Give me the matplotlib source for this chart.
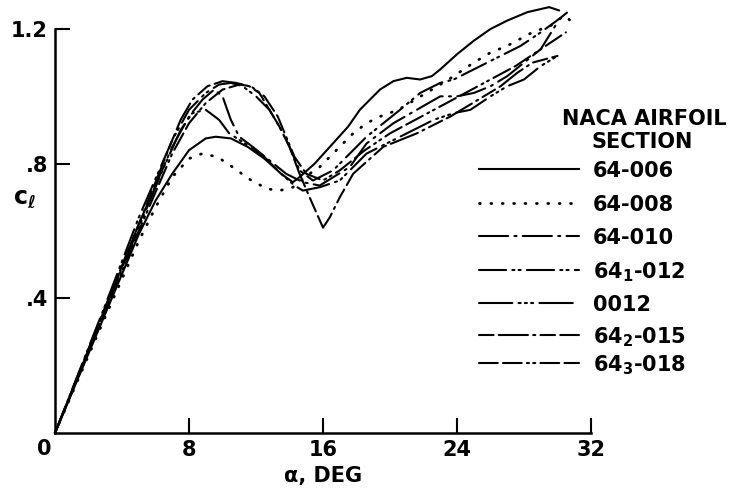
import matplotlib
matplotlib.use("Agg")
import matplotlib.pyplot as plt
from matplotlib.lines import Line2D

# lift curves (alpha in deg, c_l)
a_64006 = [0, 3, 5, 6, 7, 8, 9, 9.6, 10.5, 11.5, 12.5, 13.5, 14.2, 14.6, 15.5, 16.5,
           17.5, 18.2, 18.8, 19.4, 20.2, 21.0, 21.8, 22.5, 23.0, 24.0, 25.0, 26.0,
           27.0, 28.2, 29.5, 30.1]
cl_64006 = [0, .354, .59, .69, .77, .84, .875, .88, .875, .85, .815, .77, .745, .76,
            .80, .855, .91, .96, .99, 1.02, 1.045, 1.055, 1.05, 1.06, 1.08, 1.125,
            1.165, 1.20, 1.225, 1.25, 1.265, 1.255]

a_64008 = [0, 3, 5, 6, 7, 8, 8.8, 9.7, 10.3, 10.9, 11.4, 12.1, 12.7, 13.4, 14.2, 15.2,
           15.8, 16.6, 17.8, 18.6, 19.4, 20.5, 21.5, 22.5, 23.5, 25.0, 26.0, 27.0,
           28.5, 29.6, 30.4, 30.9]
cl_64008 = [0, .345, .57, .67, .76, .815, .83, .82, .80, .78, .76, .74, .725, .72, .73,
            .77, .79, .83, .89, .92, .94, .96, .99, 1.02, 1.05, 1.10, 1.13, 1.15,
            1.19, 1.21, 1.24, 1.22]

a_64010 = [0, 3, 5, 7, 8, 8.8, 9.5, 10.0, 10.5, 11.0, 11.8, 12.8, 13.8, 14.8, 15.8,
           17.6, 18.6, 20.2, 21.6, 23.0, 24.0, 25.0, 26.0, 27.0, 28.0, 29.0, 30.0]
cl_64010 = [0, .375, .62, .85, .94, .99, 1.02, 1.0, .93, .88, .85, .81, .77, .745,
            .735, .79, .86, .92, .96, 1.0, 1.0, 1.01, 1.03, 1.06, 1.10, 1.14, 1.22]

a_641012 = [0, 3, 5, 7, 8, 9, 9.8, 10.5, 11.2, 12.0, 12.8, 13.4, 14.0, 14.6, 15.4,
            16.6, 17.4, 18.6, 19.6, 20.6, 21.8, 23.0, 23.8, 25.4, 26.6, 27.8, 29.0,
            30.1, 30.6]
cl_641012 = [0, .38, .64, .87, .96, 1.01, 1.035, 1.04, 1.03, 1.0, .96, .91, .85, .78,
             .75, .78, .82, .88, .92, .96, 1.01, 1.04, 1.05, 1.09, 1.12, 1.15, 1.19,
             1.23, 1.25]

a_0012 = [0, 3, 5, 6.5, 7.5, 8.2, 9.0, 9.8, 10.4, 11.5, 12.5, 13.5, 14.3, 14.8, 15.8,
          17.0, 18.6, 20.6, 22.6, 23.8, 24.8, 26.0, 27.0, 28.0, 29.0, 30.0]
cl_0012 = [0, .37, .61, .79, .90, .95, .96, .93, .89, .855, .82, .77, .735, .72, .73,
           .75, .83, .88, .93, .95, .96, 1.0, 1.03, 1.05, 1.09, 1.12]

a_642015 = [0, 3, 5, 7, 7.5, 8.2, 9.1, 10.0, 10.8, 11.6, 12.2, 12.8, 13.4, 14.0, 14.6,
            15.2, 16.0, 16.4, 17.0, 17.8, 19.6, 21.6, 23.6, 25.6, 26.6, 27.6, 28.5,
            30.0]
cl_642015 = [0, .37, .62, .87, .93, .99, 1.03, 1.045, 1.04, 1.03, 1.01, .96, .91, .85,
             .77, .70, .61, .64, .70, .77, .85, .89, .94, 1.0, 1.03, 1.07, 1.10, 1.12]

a_643018 = [0, 3, 5, 7, 8, 9, 10, 11, 11.7, 12.5, 13.3, 13.8, 14.3, 15.0, 16.0, 17.0,
            18.5, 20.0, 21.5, 23.0, 24.5, 26.0, 27.5, 29.0, 30.5]
cl_643018 = [0, .36, .60, .83, .92, .98, 1.02, 1.035, 1.03, 1.0, .94, .88, .82, .77,
             .75, .78, .84, .89, .93, .97, 1.01, 1.05, 1.09, 1.14, 1.19]

labels = ["64-006", "64-008", "64-010", r"64$_{\mathbf{1}}$-012", "0012",
          r"64$_{\mathbf{2}}$-015", r"64$_{\mathbf{3}}$-018"]
styles = ["-", (0, (0.3, 3.8)), (0, (14, 3, 1, 3)), (0, (13, 3, 1, 2, 1, 3)),
          (0, (16, 3, 1, 2, 1, 2, 1, 3)), (0, (7, 2.5, 14, 2.5, 1, 2.5)),
          (0, (9, 2.5, 9, 2.5, 1, 2, 1, 2.5))]
series = [(a_64006, cl_64006), (a_64008, cl_64008), (a_64010, cl_64010),
          (a_641012, cl_641012), (a_0012, cl_0012), (a_642015, cl_642015),
          (a_643018, cl_643018)]

plt.rcParams["font.weight"] = "bold"
plt.rcParams["axes.labelweight"] = "bold"
plt.rcParams["mathtext.default"] = "bf"

W, H = 734, 494
fig = plt.figure(figsize=(W / 100, H / 100), dpi=100)
ax = fig.add_axes([55 / W, 61 / H, 536 / W, 404 / H])

for (a, cl), ls in zip(series, styles):
    lw = 2.0 if ls == styles[1] else 1.5
    ax.plot(a, cl, color="black", lw=lw, linestyle=ls, clip_on=False,
            dash_capstyle="round", solid_capstyle="round")

ax.set_xlim(0, 32)
ax.set_ylim(0, 1.2)
for s in ["top", "right"]:
    ax.spines[s].set_visible(False)
for s in ["left", "bottom"]:
    ax.spines[s].set_linewidth(1.8)

ax.set_xticks([8, 16, 24, 32])
ax.set_xticklabels(["8", "16", "24", "32"])
ax.set_yticks([0.4, 0.8, 1.2])
ax.set_yticklabels([".4", ".8", "1.2"])
ax.tick_params(direction="in", length=11, width=1.5, labelsize=15, pad=5)
ax.text(-11 / 536, -16 / 404, "0", transform=ax.transAxes, fontsize=15,
        ha="center", va="center")

ax.set_xlabel("α, DEG", fontsize=15, labelpad=4)
fig.text(24 / W, 1 - 198 / H, r"c$_{\ell}$", fontsize=17, ha="center", va="center")

# legend drawn by hand to follow the original layout
fig.text(644 / W, 1 - 125 / H, "NACA AIRFOIL", fontsize=15, ha="center", va="baseline")
fig.text(642 / W, 1 - 148 / H, "SECTION", fontsize=15, ha="center", va="baseline")
rows = [169, 203, 236, 270, 303, 335, 363]
for lab, ls, y in zip(labels, styles, rows):
    lw = 2.0 if ls == styles[1] else 1.5
    fig.add_artist(Line2D([479 / W, 579 / W], [1 - y / H, 1 - y / H],
                          transform=fig.transFigure, color="black", lw=lw,
                          linestyle=ls, dash_capstyle="round"))
    fig.text(593 / W, 1 - (y + 8) / H, lab, fontsize=15, ha="left", va="baseline")

fig.savefig("out.png", dpi=100)
